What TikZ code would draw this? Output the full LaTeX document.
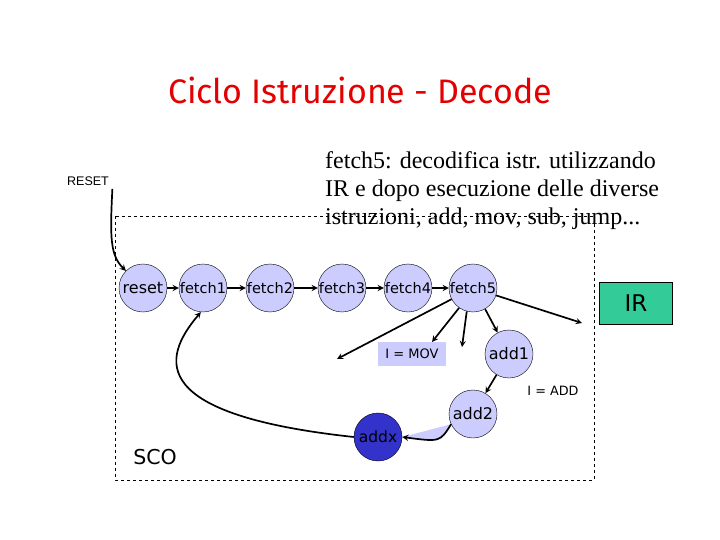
\documentclass[tikz,border=0pt]{standalone}
\usepackage{fontspec}
\setmainfont{DejaVu Sans}
\newfontfamily\titlefont{Fira Sans}
\newfontfamily\notefont{Liberation Serif}
\newfontfamily\labelfont{Liberation Sans}
\definecolor{lavender}{RGB}{204,204,255}
\definecolor{addxblue}{RGB}{51,51,204}
\definecolor{irgreen}{RGB}{51,204,153}
\definecolor{titlered}{RGB}{228,0,0}

\begin{document}
\begin{tikzpicture}[x=1pt,y=-1pt,
  state/.style={circle, draw, thin, fill=lavender, minimum size=48pt, inner sep=0pt,
    font=\fontsize{14.5}{16}\selectfont},
  arr/.style={line width=1.7pt, -stealth}]
  \useasboundingbox (0,0) rectangle (720,540); % page as the slide

  % Title
  \node[anchor=base, text=titlered, font=\titlefont\fontsize{34}{38}\selectfont] (title) at (360,104) {Ciclo Istruzione - Decode};

  % Dashed frame of the control unit
  \draw[dashed, thin] (115,216) rectangle (594,480);

  % Note on fetch5
  \node[anchor=north west, align=left, inner sep=0pt, font=\notefont\fontsize{24}{28}\selectfont] (note) at (325,151)
    {fetch5: decodifica istr. utilizzando\\IR e dopo esecuzione delle diverse\\istruzioni, add, mov, sub, jump...};

  % States of the fetch chain
  \node[state, font=\fontsize{16}{18}\selectfont] (reset) at (143,288) {reset};
  \foreach \n/\x in {fetch1/203, fetch2/270, fetch3/342, fetch4/408, fetch5/473} {
    \node[state] (\n) at (\x,288) {\n};
  }
  \draw[arr] (reset) -- (fetch1);
  \draw[arr] (fetch1) -- (fetch2);
  \draw[arr] (fetch2) -- (fetch3);
  \draw[arr] (fetch3) -- (fetch4);
  \draw[arr] (fetch4) -- (fetch5);

  % Reset input
  \node[font=\labelfont\fontsize{12.5}{14}\selectfont] (RESET) at (88,181) {RESET};
  \draw[arr] (RESET.south east) .. controls (110,237) and (110,255) .. (reset.135);

  % Decode branches
  \coordinate (toIR) at (582,323);
  \coordinate (toother) at (337,359);
  \coordinate (tomov) at (432,342);
  \coordinate (tosub) at (462,347);
  \draw[arr] (fetch5) -- (toIR);
  \draw[arr] (fetch5) -- (toother);
  \draw[arr] (fetch5.235) -- (tomov);
  \draw[arr] (fetch5.255) -- (tosub);

  \node[fill=lavender, minimum width=68pt, minimum height=24pt, inner sep=0pt,
    font=\fontsize{13}{15}\selectfont] (mov) at (412,354) {I = MOV};
  \node[font=\fontsize{12.8}{15}\selectfont] (add) at (553,391) {I = ADD};

  % ADD execution
  \node[state, font=\fontsize{16}{18}\selectfont] (add1) at (509,354) {add1};
  \node[state, font=\fontsize{16}{18}\selectfont] (add2) at (473,414) {add2};
  \node[state, fill=addxblue, font=\fontsize{15.5}{18}\selectfont] (addx) at (378,437) {addx};
  \draw[arr] (fetch5.300) -- (add1);
  \draw[arr] (add1) -- (add2);
  \fill[lavender] (add2.205) .. controls (440,442) .. (addx.east) -- cycle; % shaded wedge
  \draw[arr] (add2.205) .. controls (440,442) .. (addx.east);
  \draw[arr] (addx.west) .. controls (150,415) and (160,360) .. (fetch1.265); % back to fetch

  \node[font=\fontsize{20.5}{24}\selectfont] (SCO) at (155,457) {SCO};

  % Instruction register
  \node[draw, thin, fill=irgreen, minimum width=73pt, minimum height=42pt,
    font=\fontsize{23}{26}\selectfont] (IR) at (636,303) {IR};
\end{tikzpicture}
\end{document}
